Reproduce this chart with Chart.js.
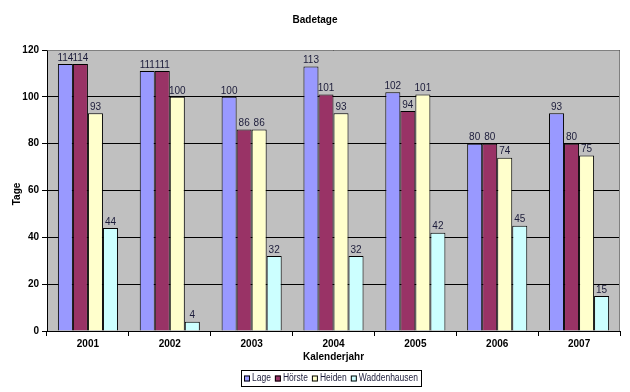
<!DOCTYPE html>
<html>
<head>
<meta charset="utf-8">
<script src="https://cdn.jsdelivr.net/npm/chart.js@4.4.0/dist/chart.umd.min.js"></script>
<style>
html,body{margin:0;padding:0;background:#fff;}
#wrap{width:630px;height:392px;position:relative;}
</style>
</head>
<body>
<div id="wrap"><canvas id="c" width="630" height="392"></canvas></div>
<script>
const categories = ['2001','2002','2003','2004','2005','2006','2007'];
const lage = [114,111,100,113,102,80,93];
const hoerste = [114,111,86,101,94,80,80];
const heiden = [93,100,86,93,101,74,75];
const waddenhausen = [44,4,32,32,42,45,15];
const seriesNames = ['Lage','Hörste','Heiden','Waddenhausen'];
const seriesColors = ['#9999FF','#993366','#FFFFCC','#CCFFFF'];
const yTicks = [0,20,40,60,80,100,120];
const chartTitle = 'Badetage';
const xTitle = 'Kalenderjahr';
const yTitle = 'Tage';

const FONT = 'Liberation Sans, Arial, sans-serif';
const seriesData = [lage, hoerste, heiden, waddenhausen];

const plotBg = {
  id:'plotBg',
  beforeDraw(chart){
    const {ctx, chartArea:a} = chart;
    ctx.save();
    ctx.fillStyle = '#C0C0C0';
    ctx.fillRect(a.left, a.top, a.right-a.left, a.bottom-a.top);
    ctx.restore();
  },
  afterDatasetsDraw(chart){
    const {ctx, chartArea:a} = chart;
    ctx.save();
    ctx.strokeStyle = '#808080';
    ctx.lineWidth = 1;
    ctx.beginPath();
    ctx.moveTo(a.left+0.5, a.top+0.5);
    ctx.lineTo(a.right-0.5, a.top+0.5);
    ctx.lineTo(a.right-0.5, a.bottom);
    ctx.stroke();
    ctx.font = '10px ' + FONT;
    ctx.fillStyle = '#1c1c3a';
    ctx.textAlign = 'center';
    ctx.textBaseline = 'bottom';
    chart.data.datasets.forEach((ds, i) => {
      const meta = chart.getDatasetMeta(i);
      meta.data.forEach((bar, j) => {
        ctx.fillText(String(ds.data[j]), bar.x, bar.y - 1);
      });
    });
    ctx.restore();
  },
  afterDraw(chart){
    const {ctx, chartArea:a} = chart;
    ctx.save();
    ctx.fillStyle = '#000';
    ctx.font = 'bold 10px ' + FONT;
    ctx.textAlign = 'center';
    ctx.textBaseline = 'middle';
    ctx.fillText(chartTitle, 315, 20);
    ctx.fillText(xTitle, (a.left + a.right)/2, 357);
    ctx.save();
    ctx.translate(17, 194);
    ctx.rotate(-Math.PI/2);
    ctx.fillText(yTitle, 0, 0);
    ctx.restore();
    // legend
    ctx.font = '10px ' + FONT;
    const sq = 6, gap = 2, itemGap = 4, pad = 3;
    const targetW = 180;
    const textWs = seriesNames.map(n => ctx.measureText(n).width);
    const fixed = seriesNames.length*(sq+gap) + itemGap*(seriesNames.length-1) + pad*2;
    const sx = Math.min(1, (targetW - fixed) / textWs.reduce((s,w)=>s+w,0));
    const widths = textWs.map(w => sq + gap + w*sx);
    const total = targetW;
    const lx = 241, ly = 370, lh = 16;
    ctx.fillStyle = '#fff';
    ctx.fillRect(lx, ly, total, lh);
    ctx.strokeStyle = '#000';
    ctx.lineWidth = 1;
    ctx.strokeRect(lx+0.5, ly+0.5, total, lh);
    let x = lx + pad;
    const cy = ly + lh/2 + 0.5;
    seriesNames.forEach((n, i) => {
      ctx.fillStyle = seriesColors[i];
      ctx.fillRect(x, cy - sq/2, sq, sq);
      ctx.strokeStyle = '#000';
      ctx.strokeRect(x+0.5, cy - sq/2 + 0.5, sq-1, sq-1);
      ctx.fillStyle = '#1c1c3a';
      ctx.textAlign = 'left';
      ctx.save();
      ctx.translate(x + sq + gap, cy);
      ctx.scale(sx, 1);
      ctx.fillText(n, 0, 0);
      ctx.restore();
      x += widths[i] + itemGap;
    });
    ctx.restore();
  }
};

new Chart(document.getElementById('c'), {
  type:'bar',
  data:{
    labels: categories,
    datasets: seriesNames.map((n,i)=>({
      label:n,
      data:seriesData[i],
      backgroundColor:seriesColors[i],
      borderColor:'#000',
      borderWidth:1,
      categoryPercentage:0.734,
      barPercentage:1.0
    }))
  },
  options:{
    responsive:false,
    animation:false,
    devicePixelRatio:1,
    layout:{padding:{top:50, right:10, left:0, bottom:0}},
    plugins:{legend:{display:false}, title:{display:false}, tooltip:{enabled:false}},
    scales:{
      x:{
        grid:{display:true, drawOnChartArea:false, drawTicks:true, tickLength:5, offset:true, color:'#000'},
        border:{color:'#000', width:1},
        ticks:{font:{family:FONT, size:10, weight:'bold'}, color:'#000', padding:2, maxRotation:0},
        afterFit(s){ s.height = 61; }
      },
      y:{
        min:0, max:120,
        afterBuildTicks(s){ s.ticks = yTicks.map(v=>({value:v})); },
        grid:{color:'#000', drawTicks:true, tickLength:5},
        border:{color:'#000', width:1},
        ticks:{font:{family:FONT, size:10, weight:'bold'}, color:'#000', padding:3},
        afterFit(s){ s.width = 47; }
      }
    }
  },
  plugins:[plotBg]
});
</script>
</body>
</html>
